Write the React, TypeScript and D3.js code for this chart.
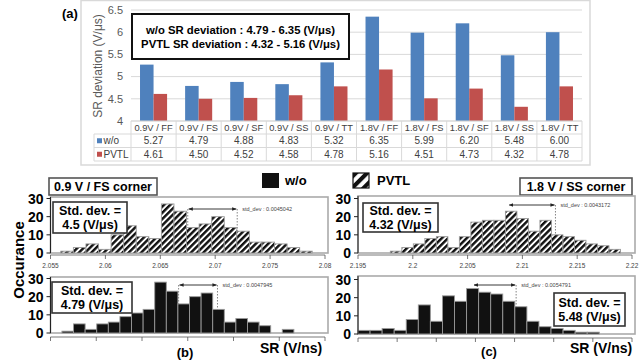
import React from 'react';
import * as d3 from 'd3';

// (a) SR deviation per PVT corner
const corners = ['0.9V / FF', '0.9V / FS', '0.9V / SF', '0.9V / SS', '0.9V / TT', '1.8V / FF', '1.8V / FS', '1.8V / SF', '1.8V / SS', '1.8V / TT'];
const woDev = [5.27, 4.79, 4.88, 4.83, 5.32, 6.35, 5.99, 6.2, 5.48, 6.0];
const pvtlDev = [4.61, 4.5, 4.52, 4.58, 4.78, 5.16, 4.51, 4.73, 4.32, 4.78];
const devTicks = [4, 4.5, 5, 5.5, 6, 6.5];

// (b)/(c) histograms, occurrence per bin
const countTicks = [0, 10, 20, 30];
const fsPvtlCounts = [1, 3, 5, 2, 10, 15, 9, 8, 27, 23, 14, 16, 20, 14, 12, 6, 6, 5, 3, 1];
const fsWoCounts = [1, 5, 2, 5, 6, 9, 11, 13, 28, 23, 16, 20, 22, 13, 6, 8, 6, 4, 0, 2];
const ssPvtlCounts = [1, 3, 5, 8, 9, 3, 9, 17, 18, 18, 23, 19, 12, 18, 10, 9, 7, 5, 4, 2];
const ssWoCounts = [2, 2, 3, 2, 8, 16, 7, 21, 18, 25, 23, 22, 18, 15, 7, 4, 3, 2, 1, 1];
const fsTicks = [2.055, 2.06, 2.065, 2.07, 2.075, 2.08];
const ssTicks = [2.195, 2.2, 2.205, 2.21, 2.215, 2.22];

const FONT = '"Liberation Sans", Arial, sans-serif';

type HistProps = {
  left: number; right: number; top: number; base: number;
  domain: [number, number]; ticks: number[]; labels: boolean;
  binStart: number; binWidth: number; counts: number[];
  fill: string; sdFrom: number; sdTo: number; sdY: number; sdText: string;
  dropLeft: boolean; axisGap: number;
};

function Histogram(p: HistProps) {
  const x = d3.scaleLinear().domain(p.domain).range([p.left, p.right]);
  const y = d3.scaleLinear().domain([0, 30]).range([p.base, p.base - 54.5]);
  const ax = p.base + p.axisGap;
  return (
    <g>
      <rect x={p.left} y={p.top} width={p.right - p.left + 3} height={p.base - p.top} fill="#fff" stroke="#aaa" strokeWidth={1.6} />
      {/* dotted sigma markers */}
      {p.dropLeft && <line x1={x(p.sdFrom)} x2={x(p.sdFrom)} y1={p.sdY} y2={p.base} stroke="#666" strokeWidth={0.8} strokeDasharray="1.5,1.5" />}
      <line x1={x(p.sdTo)} x2={x(p.sdTo)} y1={p.sdY} y2={p.base} stroke="#666" strokeWidth={0.8} strokeDasharray="1.5,1.5" />
      {p.counts.map((c, i) => {
        const x0 = x(p.binStart + i * p.binWidth);
        const x1 = x(p.binStart + (i + 1) * p.binWidth);
        return <rect key={i} x={x0} y={y(c)} width={x1 - x0} height={p.base - y(c)} fill={p.fill} stroke="#999" strokeWidth={0.9} />;
      })}
      <line x1={x(p.sdFrom) + 1} x2={x(p.sdTo) - 1} y1={p.sdY} y2={p.sdY} stroke="#222" strokeWidth={0.9} markerStart="url(#arrL)" markerEnd="url(#arrR)" />
      <text x={x(p.sdTo) + 5} y={p.sdY + 2} fontSize={5.5} fill="#444" fontFamily={FONT}>{p.sdText}</text>
      {/* y axis */}
      <line x1={p.left} x2={p.left} y1={p.top} y2={p.base} stroke="#222" strokeWidth={1} />
      {countTicks.map((t) => (
        <g key={t}>
          <line x1={p.left - 4} x2={p.left} y1={y(t)} y2={y(t)} stroke="#222" />
          <text x={p.left - 7} y={y(t)} dy="0.36em" textAnchor="end" fontSize={14} fontWeight="bold" fontFamily={FONT}>{t}</text>
        </g>
      ))}
      {/* x axis */}
      <line x1={x(p.domain[0])} x2={x(p.domain[1])} y1={ax} y2={ax} stroke="#555" strokeWidth={0.8} />
      {p.ticks.map((t, i) => (
        <g key={i}>
          <line x1={x(t)} x2={x(t)} y1={ax} y2={ax + 4} stroke="#555" strokeWidth={0.8} />
          {p.labels && <text x={x(t)} y={ax + 13} textAnchor="middle" fontSize={6.5} fill="#444" fontFamily={FONT}>{t}</text>}
        </g>
      ))}
    </g>
  );
}

function Box({ x, y, w, h, lines, size, stroke }: { x: number; y: number; w: number; h: number; lines: string[]; size: number; stroke: string }) {
  return (
    <g>
      <rect x={x} y={y} width={w} height={h} fill="#fff" stroke={stroke} strokeWidth={1.6} />
      {lines.map((l, i) => (
        <text key={i} x={x + w / 2} y={y + h / 2 + (i - (lines.length - 1) / 2) * (size + 1.5)} dy="0.36em" textAnchor="middle" fontSize={size} fontWeight="bold" fontFamily={FONT}>{l}</text>
      ))}
    </g>
  );
}

export default function App() {
  // ---- (a) bar chart + data table ----
  const xBand = d3.scaleBand<string>().domain(corners).range([131, 582]);
  const yDev = d3.scaleLinear().domain([4, 6.5]).range([121, 10]);
  const bw = xBand.bandwidth();
  const barW = bw * 0.3;
  const rowY = [121, 134, 147.5, 161];

  const fsTop = d3.scaleLinear().domain([0, 6]).range([50.5, 325]);
  const ssTop = d3.scaleLinear().domain([0, 7]).range([358, 632]);

  return (
    <div style={{ position: 'fixed', left: 0, top: 0 }}>
      <svg width={641} height={364} style={{ display: 'block', background: '#fff' }} fontFamily={FONT}>
        <defs>
          <pattern id="hatch" patternUnits="userSpaceOnUse" width={4.4} height={4.4} patternTransform="rotate(45)">
            <rect width={4.4} height={4.4} fill="#fff" />
            <line x1={1.2} y1={0} x2={1.2} y2={4.4} stroke="#111" strokeWidth={2.5} />
          </pattern>
          <pattern id="hatchBig" patternUnits="userSpaceOnUse" width={8} height={8} patternTransform="translate(353,173) rotate(45)">
            <rect width={8} height={8} fill="#fff" />
            <line x1={2} y1={0} x2={2} y2={8} stroke="#111" strokeWidth={4.2} />
          </pattern>
          <marker id="arrR" viewBox="0 0 10 10" refX={9} refY={5} markerWidth={5} markerHeight={5} orient="auto">
            <path d="M0,1 L10,5 L0,9 z" fill="#222" />
          </marker>
          <marker id="arrL" viewBox="0 0 10 10" refX={1} refY={5} markerWidth={5} markerHeight={5} orient="auto">
            <path d="M10,1 L0,5 L10,9 z" fill="#222" />
          </marker>
        </defs>

        {/* (a) */}
        <rect x={81} y={0.5} width={509} height={164.5} fill="#fff" stroke="#d9d9d9" strokeWidth={1.5} />
        {devTicks.map((t) => (
          <g key={t}>
            <line x1={131} x2={582} y1={yDev(t)} y2={yDev(t)} stroke="#d9d9d9" strokeWidth={1} />
            <text x={123} y={yDev(t)} dy="0.35em" textAnchor="end" fontSize={11} fill="#595959">{t}</text>
          </g>
        ))}
        <text transform="translate(98,66) rotate(-90)" textAnchor="middle" dy="0.35em" fontSize={12} fill="#595959">SR deviation (V/μs)</text>
        <text x={62} y={18} fontSize={13} fontWeight="bold">(a)</text>
        {corners.map((c, i) => {
          const x0 = (xBand(c) as number) + (bw - 2 * barW) / 2;
          return (
            <g key={c}>
              <rect x={x0} y={yDev(woDev[i])} width={barW} height={yDev(4) - yDev(woDev[i])} fill="#4f81bd" />
              <rect x={x0 + barW} y={yDev(pvtlDev[i])} width={barW} height={yDev(4) - yDev(pvtlDev[i])} fill="#c0504d" />
            </g>
          );
        })}
        {/* data table */}
        <line x1={131} x2={582} y1={rowY[0]} y2={rowY[0]} stroke="#d9d9d9" />
        {rowY.slice(1).map((ry) => <line key={ry} x1={94} x2={582} y1={ry} y2={ry} stroke="#d9d9d9" />)}
        <line x1={94} x2={94} y1={rowY[1]} y2={rowY[3]} stroke="#d9d9d9" />
        {corners.map((c, i) => (
          <line key={'v' + i} x1={xBand(c) as number} x2={xBand(c) as number} y1={rowY[0]} y2={rowY[3]} stroke="#d9d9d9" />
        ))}
        <line x1={582} x2={582} y1={rowY[0]} y2={rowY[3]} stroke="#d9d9d9" />
        {corners.map((c, i) => {
          const cx = (xBand(c) as number) + bw / 2;
          return (
            <g key={'t' + c} fontSize={10} fill="#404040" textAnchor="middle">
              <text x={cx} y={(rowY[0] + rowY[1]) / 2} dy="0.36em" fontSize={9.3}>{c}</text>
              <text x={cx} y={(rowY[1] + rowY[2]) / 2} dy="0.36em">{woDev[i].toFixed(2)}</text>
              <text x={cx} y={(rowY[2] + rowY[3]) / 2} dy="0.36em">{pvtlDev[i].toFixed(2)}</text>
            </g>
          );
        })}
        <rect x={97} y={(rowY[1] + rowY[2]) / 2 - 2.5} width={5} height={5} fill="#4f81bd" />
        <text x={103.5} y={(rowY[1] + rowY[2]) / 2} dy="0.36em" fontSize={10} fill="#404040">w/o</text>
        <rect x={97} y={(rowY[2] + rowY[3]) / 2 - 2.5} width={5} height={5} fill="#c0504d" />
        <text x={103.5} y={(rowY[2] + rowY[3]) / 2} dy="0.36em" fontSize={10} fill="#404040">PVTL</text>
        <rect x={132} y={14} width={217} height={45} fill="#fff" stroke="#111" strokeWidth={2} />
        <text x={240.5} y={30} dy="0.36em" textAnchor="middle" fontSize={11.3} fontWeight="bold">w/o SR deviation : 4.79 - 6.35 (V/μs)</text>
        <text x={240.5} y={44} dy="0.36em" textAnchor="middle" fontSize={11.3} fontWeight="bold">PVTL SR deviation : 4.32 - 5.16 (V/μs)</text>

        {/* legend */}
        <rect x={262} y={173} width={17} height={15} fill="#111" />
        <text x={285} y={185} fontSize={13} fontWeight="bold">w/o</text>
        <rect x={353} y={173} width={16} height={15} fill="url(#hatchBig)" stroke="#111" strokeWidth={1.2} />
        <text x={377} y={185} fontSize={13} fontWeight="bold">PVTL</text>

        {/* (b) */}
        <text transform="translate(19,260) rotate(-90)" textAnchor="middle" dy="0.36em" fontSize={15} fontWeight="bold">Occurance</text>
        <Box x={49} y={178} w={108} h={17} lines={['0.9 V / FS corner']} size={12.5} stroke="#555" />
        <Histogram left={50.5} right={325} top={197} base={253} domain={[2.055, 2.08]} ticks={fsTicks} labels
          binStart={2.05594} binWidth={0.001145} counts={fsPvtlCounts} fill="url(#hatch)"
          sdFrom={2.0675} sdTo={2.0675 + 0.0045042} sdY={209} sdText="std_dev : 0.0045042" dropLeft axisGap={2} />
        <Box x={53} y={202} w={74} h={31} lines={['Std. dev. =', '4.5 (V/μs)']} size={12.5} stroke="#333" />
        <Histogram left={50.5} right={325} top={277} base={333} domain={fsTop.domain() as [number, number]} ticks={d3.range(0, 7)} labels={false}
          binStart={0.25} binWidth={0.2535} counts={fsWoCounts} fill="#111"
          sdFrom={2.8} sdTo={3.65} sdY={285} sdText="std_dev : 0.0047945" dropLeft axisGap={4} />
        <Box x={52} y={282} w={80} h={31} lines={['Std. dev. =', '4.79 (V/μs)']} size={12.5} stroke="#333" />
        <text x={185} y={352} dy="0.36em" textAnchor="middle" fontSize={13} fontWeight="bold">(b)</text>
        <text x={260} y={353} fontSize={14} fontWeight="bold">SR (V/ns)</text>

        {/* (c) */}
        <Box x={520} y={178} w={112} h={17} lines={['1.8 V / SS corner']} size={12.5} stroke="#555" />
        <Histogram left={358} right={632} top={196} base={253} domain={[2.195, 2.22]} ticks={ssTicks} labels
          binStart={2.19795} binWidth={0.00105} counts={ssPvtlCounts} fill="url(#hatch)"
          sdFrom={2.2087} sdTo={2.2087 + 0.0043172} sdY={205} sdText="std_dev : 0.0043172" dropLeft={false} axisGap={2} />
        <Box x={363} y={203} w={75} h={29} lines={['Std. dev. =', '4.32 (V/μs)']} size={12.5} stroke="#333" />
        <Histogram left={358} right={632} top={276} base={334} domain={ssTop.domain() as [number, number]} ticks={d3.range(0, 8)} labels={false}
          binStart={0} binWidth={0.3082} counts={ssWoCounts} fill="#111"
          sdFrom={2.94} sdTo={4.04} sdY={285} sdText="std_dev : 0.0054791" dropLeft={false} axisGap={4} />
        <Box x={554} y={293} w={71} h={33} lines={['Std. dev. =', '5.48 (V/μs)']} size={12.5} stroke="#333" />
        <text x={489} y={351} dy="0.36em" textAnchor="middle" fontSize={13} fontWeight="bold">(c)</text>
        <text x={570} y={353} fontSize={14} fontWeight="bold">SR (V/ns)</text>
      </svg>
    </div>
  );
}
